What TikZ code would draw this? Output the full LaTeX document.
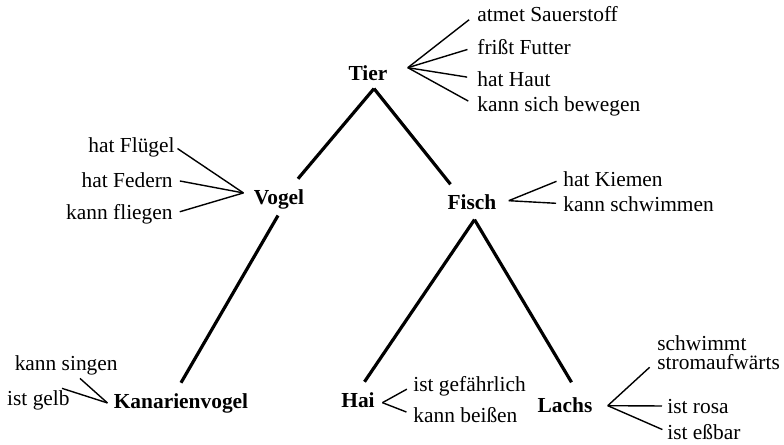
\documentclass[tikz,border=0pt]{standalone}
\usepackage{fontspec}
\setmainfont{Liberation Serif}
\usetikzlibrary{positioning}

\begin{document}
\begin{tikzpicture}[
    x=0.5pt,
    y=-0.5pt,
    font=\fontsize{10.7}{12}\selectfont,
    concept/.style={font=\fontsize{10.7}{12}\selectfont\bfseries, inner sep=0pt},
    prop/.style={inner sep=0pt},
    branch/.style={line width=1.6pt},
    link/.style={line width=0.7pt, shorten >=3.5pt},
]
    \useasboundingbox (0,0) rectangle (784,445);

    % concepts
    \node[concept, anchor=base] (tier)          at (368,80)  {Tier};
    \node[concept, anchor=base] (vogel)         at (279,204) {Vogel};
    \node[concept, anchor=base] (fisch)         at (472,209) {Fisch};
    \node[concept, anchor=base] (kanarienvogel) at (181,408) {Kanarienvogel};
    \node[concept, anchor=base] (hai)           at (358,407) {Hai};
    \node[concept, anchor=base] (lachs)         at (565,412) {Lachs};

    % properties
    \node[prop, anchor=base west] (sauerstoff) at (477,21)  {atmet Sauerstoff};
    \node[prop, anchor=base west] (futter)     at (477,54)  {frißt Futter};
    \node[prop, anchor=base west] (haut)       at (477,86)  {hat Haut};
    \node[prop, anchor=base west] (bewegen)    at (477,111) {kann sich bewegen};

    \node[prop, anchor=base east] (fluegel)    at (175,152) {hat Flügel};
    \node[prop, anchor=base east] (federn)     at (173,187) {hat Federn};
    \node[prop, anchor=base east] (fliegen)    at (173,219) {kann fliegen};

    \node[prop, anchor=base west] (kiemen)     at (563,186) {hat Kiemen};
    \node[prop, anchor=base west] (schwimmen)  at (563,211) {kann schwimmen};

    \node[prop, anchor=base east] (singen)     at (118,370) {kann singen};
    \node[prop, anchor=base east] (gelb)       at (70,405)  {ist gelb};

    \node[prop, anchor=base west] (gefaehrlich) at (413,391) {ist gefährlich};
    \node[prop, anchor=base west] (beissen)     at (413,422) {kann beißen};

    \node[prop, anchor=north west, align=left, font=\fontsize{10.7}{9.6}\selectfont]
        (strom) at (657,335) {schwimmt\\stromaufwärts};
    \node[prop, anchor=base west] (rosa)       at (667,413) {ist rosa};
    \node[prop, anchor=base west] (essbar)     at (667,439) {ist eßbar};

    % hierarchy
    \draw[branch] ([shift={(3pt,-4pt)}]tier.south) -- ([shift={(9.5pt,5pt)}]vogel.north);
    \draw[branch] ([shift={(3pt,-4pt)}]tier.south) -- ([shift={(-10.75pt,4.75pt)}]fisch.north);
    \draw[branch] ([shift={(-0.5pt,-3.2pt)}]vogel.south) -- ([yshift=5pt]kanarienvogel.north);
    \draw[branch] ([shift={(1.25pt,-5pt)}]fisch.south) -- ([shift={(3.25pt,5pt)}]hai.north);
    \draw[branch] ([shift={(1.25pt,-5pt)}]fisch.south) -- ([shift={(3.25pt,7.25pt)}]lachs.north);

    % property links
    \draw[link, shorten >=5pt] ([shift={(10pt,2.5pt)}]tier.east) -- (sauerstoff.west);
    \draw[link, shorten >=5pt] ([shift={(10pt,2.5pt)}]tier.east) -- (futter.west);
    \draw[link, shorten >=5pt] ([shift={(10pt,2.5pt)}]tier.east) -- (haut.west);
    \draw[link, shorten >=5pt] ([shift={(10pt,2.5pt)}]tier.east) -- (bewegen.west);

    \draw[link, shorten >=1.5pt] ([shift={(-5pt,3pt)}]vogel.west) -- (fluegel.east);
    \draw[link] ([shift={(-5pt,3pt)}]vogel.west) -- (federn.east);
    \draw[link] ([shift={(-5pt,3pt)}]vogel.west) -- (fliegen.east);

    \draw[link] ([shift={(6pt,0.5pt)}]fisch.east) -- (kiemen.west);
    \draw[link] ([shift={(6pt,0.5pt)}]fisch.east) -- (schwimmen.west);

    \draw[link, shorten >=0pt] ([xshift=-3pt]kanarienvogel.west) -- ([shift={(-19pt,-1.7pt)}]singen.south east);
    \draw[link, shorten >=0pt] ([xshift=-3pt]kanarienvogel.west) -- ([shift={(-4pt,0.7pt)}]gelb.north east);

    \draw[link] ([shift={(3.7pt,-1.5pt)}]hai.east) -- (gefaehrlich.west);
    \draw[link] ([shift={(3.7pt,-1.5pt)}]hai.east) -- (beissen.west);

    \draw[link, shorten >=5pt] ([shift={(7.5pt,-0.5pt)}]lachs.east) -- ([yshift=-4pt]strom.west);
    \draw[link, shorten >=2.5pt] ([shift={(7.5pt,-0.5pt)}]lachs.east) -- (rosa.west);
    \draw[link, shorten >=2.5pt] ([shift={(7.5pt,-0.5pt)}]lachs.east) -- (essbar.west);
\end{tikzpicture}
\end{document}
